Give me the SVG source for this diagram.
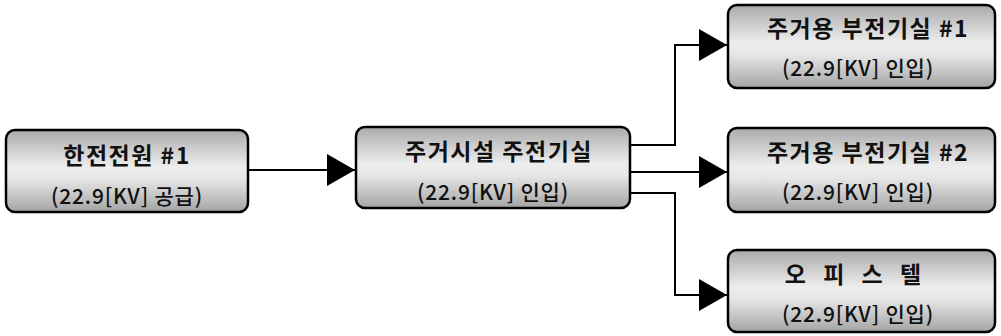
<svg xmlns="http://www.w3.org/2000/svg" width="1001" height="336" viewBox="0 0 1001 336">
<defs>
<linearGradient id="g" x1="0" y1="0" x2="0" y2="1">
<stop offset="0" stop-color="#aaaaaa"/>
<stop offset="0.45" stop-color="#ededed"/>
<stop offset="0.6" stop-color="#e6e6e6"/>
<stop offset="1" stop-color="#a4a4a4"/>
</linearGradient>
<marker id="arr" markerWidth="28" markerHeight="32" refX="28" refY="16" orient="auto" markerUnits="userSpaceOnUse">
<path d="M0,0 L28,16 L0,32 Z" fill="#000"/>
</marker>
<style>
.box{fill:url(#g);stroke:#000;stroke-width:2.5}
.t1{font-family:"Noto Sans CJK KR","Noto Sans",sans-serif;font-size:23px;font-weight:bold;fill:#111;text-anchor:middle;letter-spacing:1.5px}
.t2{font-family:"Noto Sans CJK KR","Noto Sans",sans-serif;font-size:21px;font-weight:500;fill:#111;text-anchor:middle;letter-spacing:0.8px}
.c{fill:none;stroke:#000;stroke-width:2}
</style>
</defs>
<g id="connectors">
<path class="c" d="M249,170 H355" marker-end="url(#arr)"/>
<path class="c" d="M631,145 H675 V45 H727" marker-end="url(#arr)"/>
<path class="c" d="M631,172 H727" marker-end="url(#arr)"/>
<path class="c" d="M631,193 H675 V295 H727" marker-end="url(#arr)"/>
</g>
<g id="n1">
<rect class="box" x="6" y="130" width="242" height="82" rx="9"/>
<text class="t1" x="127" y="164">한전전원 #1</text>
<text class="t2" x="127" y="204">(22.9[KV] 공급)</text>
</g>
<g id="n2">
<rect class="box" x="356" y="127" width="274" height="81" rx="9"/>
<text class="t1" x="499" y="160">주거시설 주전기실</text>
<text class="t2" x="493" y="200">(22.9[KV] 인입)</text>
</g>
<g id="n3">
<rect class="box" x="728" y="5" width="267" height="83" rx="9"/>
<text class="t1" x="868" y="37">주거용 부전기실 #1</text>
<text class="t2" x="858" y="76">(22.9[KV] 인입)</text>
</g>
<g id="n4">
<rect class="box" x="728" y="128" width="267" height="84" rx="9"/>
<text class="t1" x="868" y="161">주거용 부전기실 #2</text>
<text class="t2" x="858" y="200">(22.9[KV] 인입)</text>
</g>
<g id="n5">
<rect class="box" x="728" y="250" width="267" height="82" rx="9"/>
<text class="t1" x="856" y="283" style="letter-spacing:6px">오 피 스 텔</text>
<text class="t2" x="858" y="322">(22.9[KV] 인입)</text>
</g>
</svg>
